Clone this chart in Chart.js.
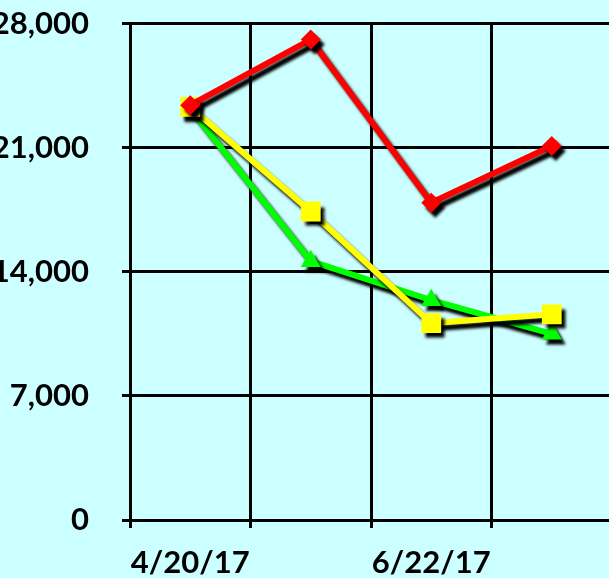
<!DOCTYPE html>
<html>
<head>
<meta charset="utf-8">
<script src="https://cdn.jsdelivr.net/npm/chart.js@4.4.0/dist/chart.umd.min.js"></script>
<style>
  html, body { margin: 0; padding: 0; overflow: hidden; background: #ccffff; }
  #myChart { display: block; margin-top: -28px; }
</style>
</head>
<body>
<canvas id="myChart" width="626" height="606"></canvas>
<script>
// categories and series
const categories = ['4/20/17', '5/22/17', '6/22/17', '7/24/17'];
const redValues = [23400, 27100, 17900, 21100];
const yellowValues = [23300, 17400, 11100, 11600];
const greenValues = [23200, 14600, 12400, 10500];
const yTicks = [0, 7000, 14000, 21000, 28000];

// black drop shadow under every line and marker
const shadowPlugin = {
  id: 'shadow',
  beforeDatasetDraw: function(chart) {
    let ctx = chart.ctx;
    ctx.save();
    ctx.shadowColor = 'rgba(0,0,0,1)';
    ctx.shadowOffsetX = 4;
    ctx.shadowOffsetY = 5;
    ctx.shadowBlur = 3;
  },
  afterDatasetDraw: function(chart) {
    chart.ctx.restore();
  }
};

const bgPlugin = {
  id: 'bg',
  beforeDraw: function(chart) {
    let ctx = chart.ctx;
    ctx.save();
    ctx.fillStyle = '#ccffff';
    ctx.fillRect(0, 0, chart.width, chart.height);
    ctx.restore();
  }
};

const tickFont = { family: 'Lato', size: 31, weight: 'bold' };

let config = {
  type: 'line',
  data: {
    labels: categories,
    datasets: [{
      data: redValues,
      borderColor: '#ff0000',
      backgroundColor: '#ff0000',
      borderWidth: 6,
      pointStyle: 'rectRot',
      pointRadius: 10,
      pointBorderWidth: 0
    }, {
      data: yellowValues,
      borderColor: '#ffff00',
      backgroundColor: '#ffff00',
      borderWidth: 6,
      pointStyle: 'rect',
      pointRadius: 14,
      pointBorderWidth: 0
    }, {
      data: greenValues,
      borderColor: '#00ff00',
      backgroundColor: '#00ff00',
      borderWidth: 6,
      pointStyle: 'triangle',
      pointRadius: 11.5,
      pointBorderWidth: 0
    }]
  },
  options: {
    responsive: false,
    animation: false,
    events: [],
    layout: { padding: { top: 0, right: 7, left: 0, bottom: 0 } },
    plugins: { legend: { display: false }, tooltip: { enabled: false } },
    elements: { line: { tension: 0 } },
    scales: {
      x: {
        offset: true,
        grid: { offset: true, color: '#000', lineWidth: 3, tickLength: 8 },
        border: { color: '#000', width: 3 },
        ticks: {
          autoSkip: false,
          maxRotation: 0,
          padding: 16,
          color: '#000',
          font: tickFont,
          callback: function(value, index) {
            return index % 2 === 0 ? this.getLabelForValue(value) : '';
          }
        },
        afterFit: function(scale) { scale.height = 58; }
      },
      y: {
        min: 0,
        max: 28000,
        grid: { color: '#000', lineWidth: 3, tickLength: 8 },
        border: { color: '#000', width: 3 },
        afterBuildTicks: function(scale) {
          scale.ticks = yTicks.map(v => ({ value: v }));
        },
        ticks: {
          padding: 33,
          color: '#000',
          font: tickFont,
          callback: function(value) { return value.toLocaleString('en-US'); }
        },
        afterFit: function(scale) { scale.width = 130; }
      }
    }
  },
  plugins: [bgPlugin, shadowPlugin]
};

new Chart(document.getElementById('myChart'), config);
</script>
</body>
</html>
